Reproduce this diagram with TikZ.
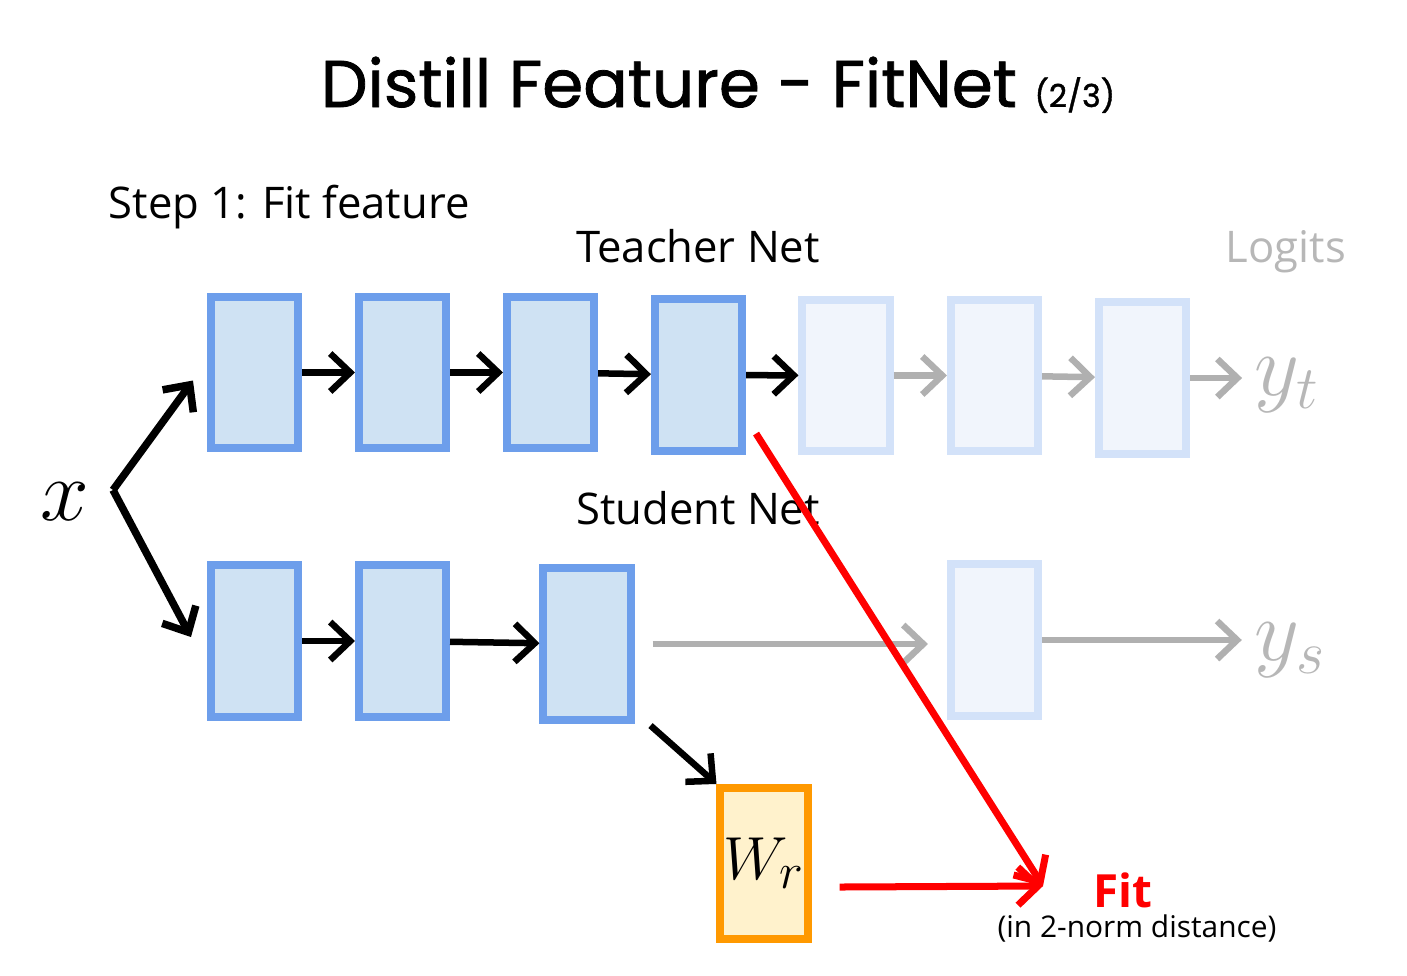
\documentclass[tikz,border=0pt]{standalone}
\usepackage{fontspec}
\setmainfont{Open Sans}
\newfontfamily\titlefont[FakeBold=1.2]{Poppins}
\usetikzlibrary{arrows.meta}
\definecolor{blueedge}{HTML}{6D9EEB}
\definecolor{bluefill}{HTML}{CFE2F3}
\definecolor{fadeedge}{HTML}{D3E2F9}
\definecolor{fadefill}{HTML}{F1F5FC}
\definecolor{arrgray}{HTML}{B0B0B0}
\definecolor{txtgray}{HTML}{B7B7B7}
\definecolor{wedge}{HTML}{FF9900}
\definecolor{wfill}{HTML}{FFF2CC}
\begin{document}
\begin{tikzpicture}[x=0.01cm,y=-0.01cm,>={Straight Barb[length=2mm,width=3.8mm]},
        blk/.style={draw=blueedge,fill=bluefill,line width=0.08cm,minimum width=0.87cm,minimum height=1.51cm,inner sep=0pt},
        faded/.style={blk,draw=fadeedge,fill=fadefill},
        wbox/.style={blk,draw=wedge,fill=wfill},
        arr/.style={->,line width=0.065cm,black},
        garr/.style={arr,arrgray},
        rarr/.style={arr,red,line width=0.07cm},
        lbl/.style={font=\fontsize{12.4}{15}\selectfont,inner sep=0pt}]
        \useasboundingbox (0,0) rectangle (1407,975);
        %===========================================
        \node[anchor=base] (title) at (718,107) {\titlefont\fontsize{18.8}{24}\selectfont Distill Feature - FitNet {\fontsize{9}{10}\selectfont (2/3)}};
        \node[lbl,anchor=base west] (step) at (108,218) {Step 1: Fit feature};
        \node[lbl,anchor=base] (teacher) at (698,262) {Teacher Net};
        \node[lbl,anchor=base,text=txtgray] (logits) at (1286,262) {Logits};
        \node[lbl,anchor=base] (student) at (698,524) {Student Net};
        %===========================================
        \node[blk] (t1) at (254.5,372.5) {};
        \node[blk] (t2) at (402.5,372.5) {};
        \node[blk] (t3) at (550.5,372.5) {};
        \node[blk] (t4) at (698.5,375) {};
        \node[faded] (t5) at (846,375.5) {};
        \node[faded] (t6) at (994.5,375.5) {};
        \node[faded] (t7) at (1142.5,378) {};
        \node[text=txtgray] (yt) at (1287,385) {\fontsize{25}{30}\selectfont$y_t$};
        \node[blk] (s1) at (254.5,641) {};
        \node[blk] (s2) at (402.5,641) {};
        \node[blk] (s3) at (587,644) {};
        \node[faded] (s6) at (994.5,640) {};
        \node[text=txtgray] (ys) at (1290,650) {\fontsize{25}{30}\selectfont$y_s$};
        \node[wbox] (wr) at (764,863.5) {\fontsize{19}{22}\selectfont$W_r$};
        %===========================================
        \node (x) at (65,502) {\fontsize{26}{30}\selectfont$x$};
        \coordinate (fork) at (113,490);
        \draw[arr,line width=0.075cm] (fork) -- ([shift={(-14,8)}]t1.west);
        \draw[arr,line width=0.075cm] (fork) -- ([shift={(-16,-4)}]s1.west);
        \foreach \a/\b in {t1/t2,t2/t3,t3/t4,t4/t5}
            \draw[arr] (\a) -- (\b);
        \foreach \a/\b in {t5/t6,t6/t7}
            \draw[garr] (\a) -- (\b);
        \draw[garr] (t7.east) -- (t7.east -| yt.west);
        \draw[arr] (s1) -- (s2);
        \draw[arr] (s2) -- (s3);
        \draw[garr,shorten <=0.18cm,shorten >=0.19cm] (s3.east) -- (s3.east -| s6.west);
        \draw[garr] (s6.east) -- (s6.east -| ys.west);
        \draw[arr] ([shift={(16,2)}]s3.south east) -- (wr.north west);
        %===========================================
        \coordinate (fitpt) at (1043,886);
        \draw[rarr] ([shift={(10,-21)}]t4.south east) -- (fitpt);
        \draw[rarr] ([shift={(28,23.5)}]wr.east) -- (fitpt);
        \node[text=red,font=\bfseries\fontsize{13}{15}\selectfont] (fit) at (1123,890) {Fit};
        \node[font=\fontsize{8.5}{10}\selectfont] (dist) at (1137,928) {(in 2-norm distance)};
\end{tikzpicture}
\end{document}
